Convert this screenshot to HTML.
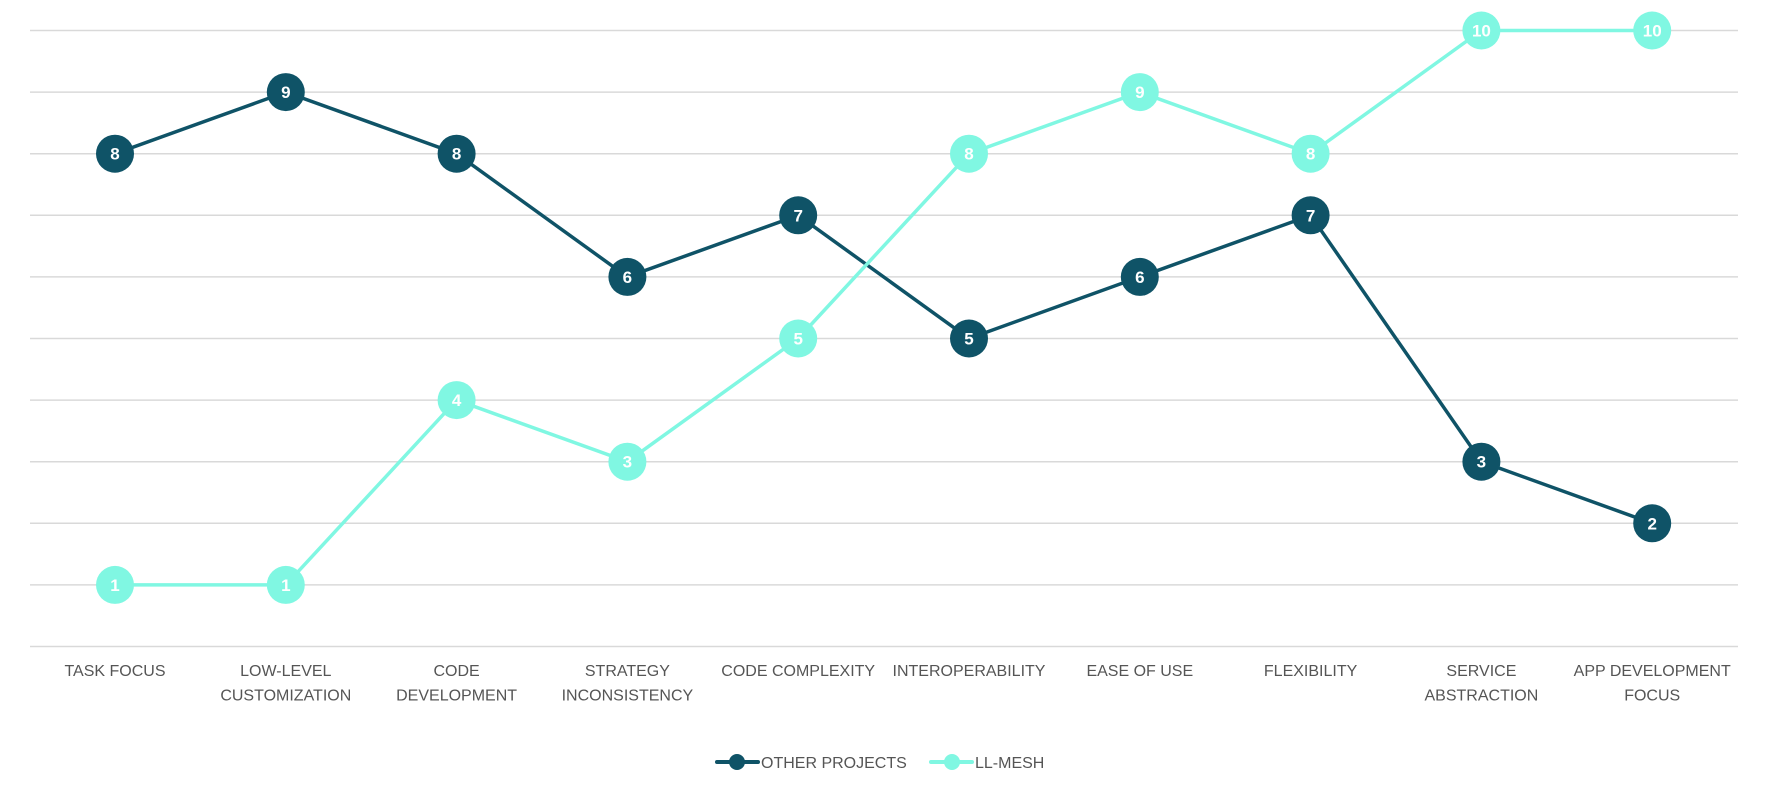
<!DOCTYPE html>
<html><head><meta charset="utf-8"><style>
body{margin:0;background:#fff;width:1780px;height:792px;overflow:hidden;font-family:"Liberation Sans",sans-serif}
</style></head><body>
<svg id="chart" width="1780" height="792" xmlns="http://www.w3.org/2000/svg"></svg>
<script>
const categories=[["TASK FOCUS"],["LOW-LEVEL","CUSTOMIZATION"],["CODE","DEVELOPMENT"],["STRATEGY","INCONSISTENCY"],["CODE COMPLEXITY"],["INTEROPERABILITY"],["EASE OF USE"],["FLEXIBILITY"],["SERVICE","ABSTRACTION"],["APP DEVELOPMENT","FOCUS"]];
const otherProjects=[8,9,8,6,7,5,6,7,3,2];
const llMesh=[1,1,4,3,5,8,9,8,10,10];
const gridValues=[0,1,2,3,4,5,6,7,8,9,10];
const seriesNames=["OTHER PROJECTS","LL-MESH"];
const colors=["#0f5367","#80f7e2"];
const svg=document.getElementById('chart');
const NS='http://www.w3.org/2000/svg';
const x=i=>115+i*170.8;
const y=v=>646.5-v*61.6;
function mk(t,a,p){const e=document.createElementNS(NS,t);for(const k in a)e.setAttribute(k,a[k]);(p||svg).appendChild(e);return e;}
gridValues.forEach(v=>{const l=mk('line',{x1:30,x2:1738,y1:y(v),y2:y(v),stroke:'#d9d9d9','stroke-width':1.5});

});
categories.forEach((c,i)=>{const t=mk('text',{x:x(i),y:676,'text-anchor':'middle','font-size':16,fill:'#555'});


c.forEach((s,j)=>{const ts=mk('tspan',{x:x(i),dy:j?24.5:0},t);ts.textContent=s;});});
[otherProjects,llMesh].forEach((d,si)=>{
const g=mk('g',{});


const p=mk('polyline',{points:d.map((v,i)=>x(i)+','+y(v)).join(' '),fill:'none',stroke:colors[si],'stroke-width':3.5},g);


d.forEach((v,i)=>{const c=mk('circle',{cx:x(i),cy:y(v),r:19,fill:colors[si]},g);


const t=mk('text',{x:x(i),y:y(v)+6,'text-anchor':'middle','font-size':17,'font-weight':'bold',fill:'#fff'},g);


t.textContent=v;});});
const leg=[[717,758,737,761],[931,972,952,975]];
leg.forEach((L,i)=>{const g=mk('g',{});


mk('line',{x1:L[0],x2:L[1],y1:762,y2:762,stroke:colors[i],'stroke-width':4,'stroke-linecap':'round'},g);
mk('circle',{cx:L[2],cy:762,r:8,fill:colors[i]},g);
const t=mk('text',{x:L[3],y:768,'font-size':16,fill:'#555'},g);t.textContent=seriesNames[i];});
</script>
</body></html>
